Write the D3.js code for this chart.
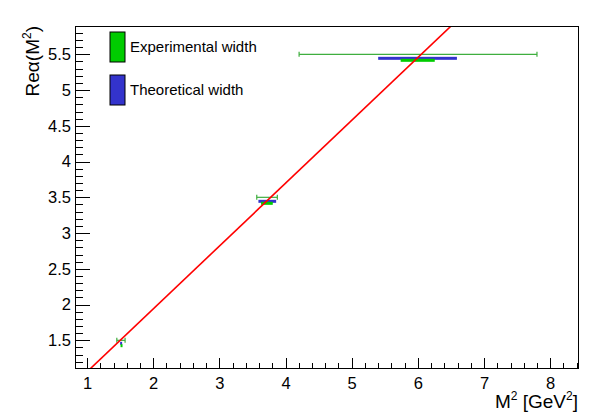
<!DOCTYPE html>
<html>
<head>
<meta charset="utf-8">
<script src="https://cdn.jsdelivr.net/npm/d3@7"></script>
<style>
  html, body { margin: 0; padding: 0; background: #fff; }
  svg { display: block; font-family: "Liberation Sans", Arial, Helvetica, sans-serif; }
</style>
</head>
<body>
<svg id="chart" width="589" height="415"></svg>
<script>
// ---- data ----
const xDomain = [0.818, 8.42];
const yDomain = [1.113, 5.896];
const xMajorTicks = [1, 2, 3, 4, 5, 6, 7, 8];
const yMajorTicks = [1.5, 2, 2.5, 3, 3.5, 4, 4.5, 5, 5.5];
const yTickLabels = ["1.5", "2", "2.5", "3", "3.5", "4", "4.5", "5", "5.5"];

// experimental mass-squared ranges (thin green error bars) at Re alpha = J
const spinJ = [1.5, 3.5, 5.5];
const expCenter = [1.51, 3.72, 6.0];
const expLow = [1.45, 3.565, 4.205];
const expHigh = [1.575, 3.876, 7.80];

// theoretical width boxes (blue)
const theoY = [1.458, 3.444, 5.444];
const theoLow = [1.50, 3.59, 5.40];
const theoHigh = [1.53, 3.858, 6.59];

// experimental width boxes (green)
const expWY = [1.425, 3.416, 5.416];
const expWLow = [1.506, 3.63, 5.74];
const expWHigh = [1.524, 3.807, 6.255];

// linear trajectory fit: Re alpha = a0 + a1 * M^2
const fitIntercept = 0.181;
const fitSlope = 0.879;

const legendLabels = ["Experimental width", "Theoretical width"];

// ---- styles ----
const C_GREEN = "#00cc00";
const C_BLUE = "#3333cc";
const C_THIN = "#3fae3f";
const C_RED = "#ff0000";

const svg = d3.select("#chart");
const L = 75, R = 578, T = 26, B = 368;
const x = d3.scaleLinear().domain(xDomain).range([L, R]);
const y = d3.scaleLinear().domain(yDomain).range([B, T]);

// minor ticks
const xMinor = d3.range(Math.ceil(xDomain[0] / 0.2) * 0.2, xDomain[1], 0.2)
  .map(v => +v.toFixed(2)).filter(v => Math.abs(v - Math.round(v)) > 1e-6);
const yMinor = d3.range(Math.ceil(yDomain[0] / 0.1) * 0.1, yDomain[1], 0.1)
  .map(v => +v.toFixed(2)).filter(v => Math.abs(v * 2 - Math.round(v * 2)) > 1e-6);

// axes
const gx = svg.append("g").attr("transform", `translate(0,${B})`);
gx.call(d3.axisBottom(x).tickValues(xMajorTicks).tickFormat(d3.format("d"))
  .tickSizeInner(-10).tickSizeOuter(0).tickPadding(9));
const gxm = svg.append("g").attr("transform", `translate(0,${B})`);
gxm.call(d3.axisBottom(x).tickValues(xMinor).tickFormat("").tickSizeInner(-5).tickSizeOuter(0));

const gy = svg.append("g").attr("transform", `translate(${L},0)`);
gy.call(d3.axisLeft(y).tickValues(yMajorTicks).tickFormat((d, i) => yTickLabels[i])
  .tickSizeInner(-15).tickSizeOuter(0).tickPadding(4));
const gym = svg.append("g").attr("transform", `translate(${L},0)`);
gym.call(d3.axisLeft(y).tickValues(yMinor).tickFormat("").tickSizeInner(-7.5).tickSizeOuter(0));

[gx, gxm, gy, gym].forEach(g => {
  g.select(".domain").remove();
  g.selectAll("line").attr("stroke", "#000").attr("shape-rendering", "crispEdges");
  g.selectAll("text").attr("font-size", 16.5).attr("fill", "#000")
    .attr("font-family", "Liberation Sans, Arial, sans-serif");
});

// clip
svg.append("defs").append("clipPath").attr("id", "clip")
  .append("rect").attr("x", L).attr("y", T).attr("width", R - L).attr("height", B - T);
const plot = svg.append("g").attr("clip-path", "url(#clip)");

// thin experimental error bars
const idx = d3.range(spinJ.length);
plot.selectAll(".thin").data(idx).enter().append("line")
  .attr("x1", i => x(expLow[i])).attr("x2", i => x(expHigh[i]))
  .attr("y1", i => y(spinJ[i])).attr("y2", i => y(spinJ[i]))
  .attr("stroke", C_THIN).attr("stroke-width", 1.2);
plot.selectAll(".capL").data(idx).enter().append("line")
  .attr("x1", i => x(expLow[i])).attr("x2", i => x(expLow[i]))
  .attr("y1", i => y(spinJ[i]) - 2.5).attr("y2", i => y(spinJ[i]) + 2.5)
  .attr("stroke", C_THIN).attr("stroke-width", 1.2);
plot.selectAll(".capR").data(idx).enter().append("line")
  .attr("x1", i => x(expHigh[i])).attr("x2", i => x(expHigh[i]))
  .attr("y1", i => y(spinJ[i]) - 2.5).attr("y2", i => y(spinJ[i]) + 2.5)
  .attr("stroke", C_THIN).attr("stroke-width", 1.2);

// theoretical width (blue) boxes
plot.selectAll(".theo").data(idx).enter().append("rect")
  .attr("x", i => x(theoLow[i])).attr("width", i => Math.max(2, x(theoHigh[i]) - x(theoLow[i])))
  .attr("y", i => y(theoY[i]) - 1.5).attr("height", 3)
  .attr("fill", C_BLUE);

// experimental width (green) boxes
plot.selectAll(".expw").data(idx).enter().append("rect")
  .attr("x", i => x(expWLow[i])).attr("width", i => Math.max(2, x(expWHigh[i]) - x(expWLow[i])))
  .attr("y", i => y(expWY[i]) - 1.5).attr("height", 3)
  .attr("fill", C_GREEN);

// fit line
const fitX = [xDomain[0], xDomain[1]];
plot.append("path")
  .datum(fitX)
  .attr("d", d3.line().x(d => x(d)).y(d => y(fitIntercept + fitSlope * d)))
  .attr("stroke", C_RED).attr("stroke-width", 1.6).attr("fill", "none");

// frame
svg.append("rect").attr("x", L).attr("y", T).attr("width", R - L).attr("height", B - T)
  .attr("fill", "none").attr("stroke", "#000").attr("shape-rendering", "crispEdges");

// axis titles
const yt = svg.append("text").attr("transform", `translate(39,${T}) rotate(-90)`)
  .attr("text-anchor", "end").attr("font-size", 19).attr("fill", "#000");
yt.append("tspan").text("Re\u03b1(M");
yt.append("tspan").attr("font-size", 12).attr("dy", -8).text("2");
yt.append("tspan").attr("dy", 8).text(")");

const xt = svg.append("text").attr("x", R).attr("y", 408)
  .attr("text-anchor", "end").attr("font-size", 19).attr("fill", "#000");
xt.append("tspan").text("M");
xt.append("tspan").attr("font-size", 12).attr("dy", -8).text("2");
xt.append("tspan").attr("dy", 8).text(" [GeV");
xt.append("tspan").attr("font-size", 12).attr("dy", -8).text("2");
xt.append("tspan").attr("dy", 8).text("]");

// legend
const legColors = [C_GREEN, C_BLUE];
const leg = svg.append("g");
leg.selectAll("rect").data(legendLabels).enter().append("rect")
  .attr("x", 110).attr("y", (d, i) => 32 + i * 43).attr("width", 15).attr("height", 30)
  .attr("fill", (d, i) => legColors[i]).attr("stroke", "#000").attr("stroke-width", 1);
leg.selectAll("text").data(legendLabels).enter().append("text")
  .attr("x", 130).attr("y", (d, i) => 52 + i * 43)
  .attr("font-size", 15).attr("fill", "#000").text(d => d);
</script>
</body>
</html>
